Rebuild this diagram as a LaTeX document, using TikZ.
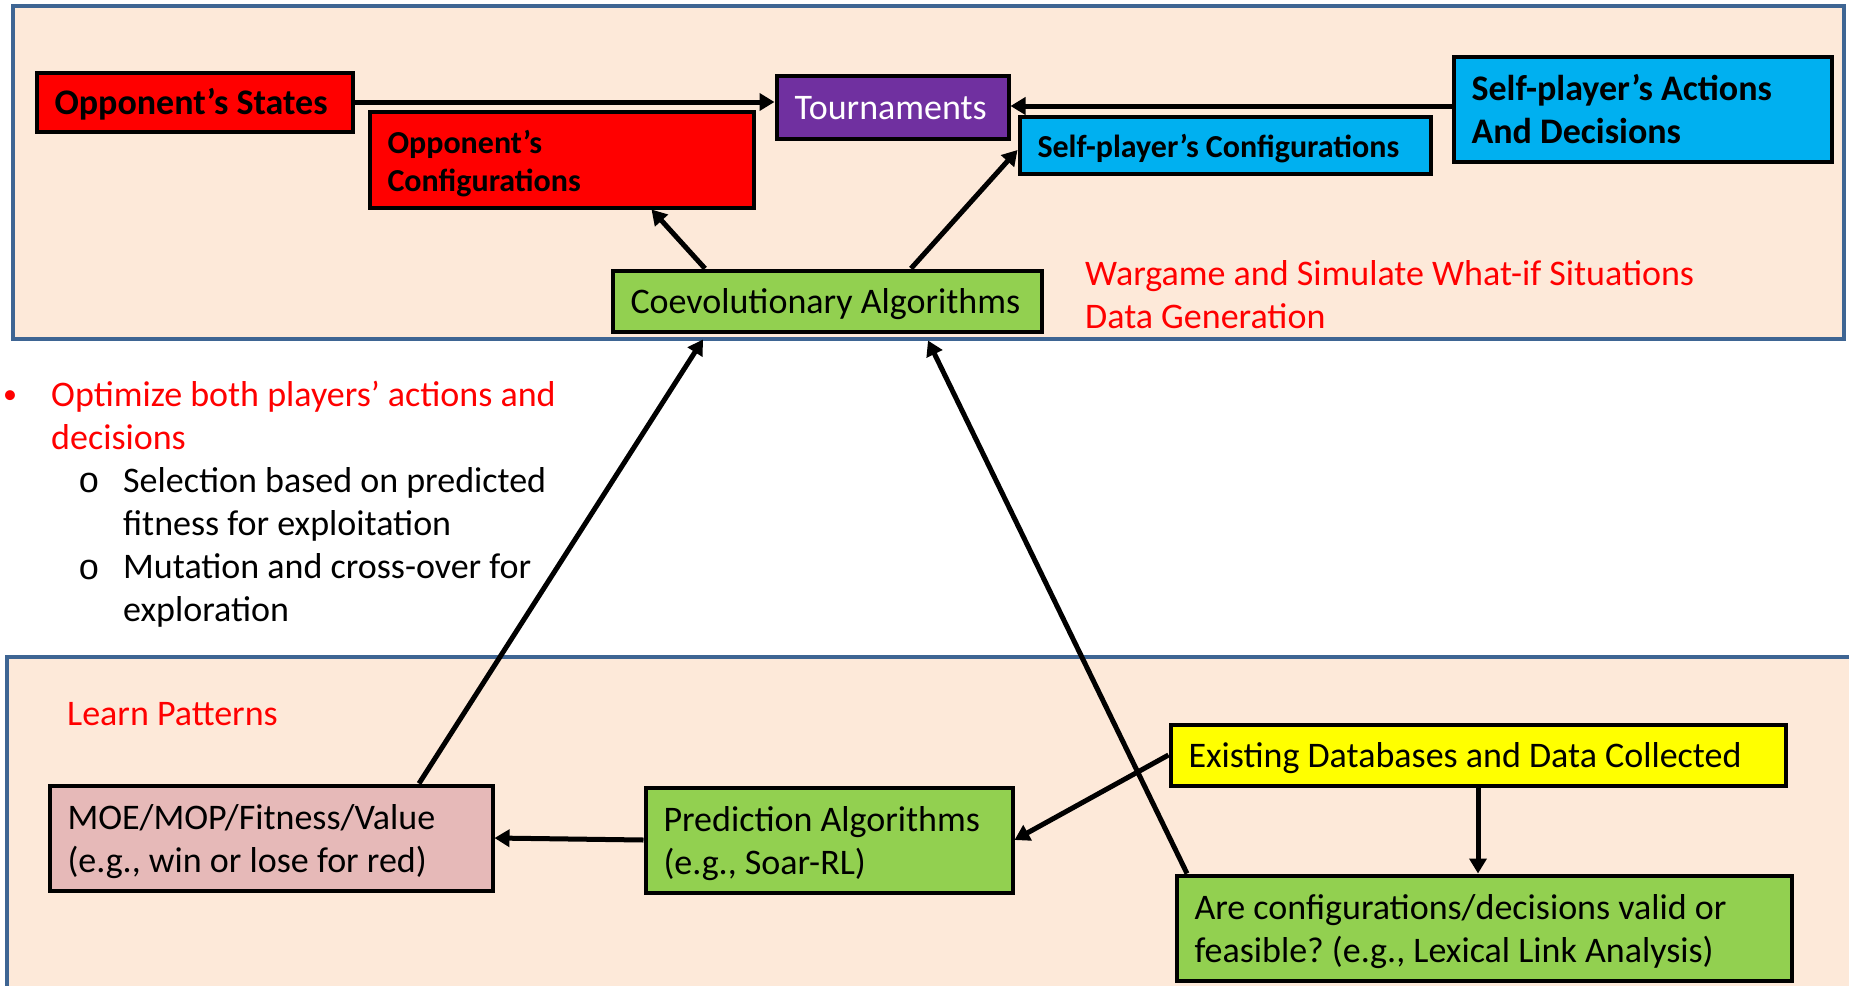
\documentclass[tikz,border=0pt]{standalone}
\usepackage{fontspec}
\setmainfont{Carlito}
\newfontfamily\monobullet{Liberation Mono}
\usetikzlibrary{positioning,arrows.meta}
\frenchspacing
\definecolor{panelfill}{HTML}{FDE9D9}
\definecolor{panelline}{HTML}{3E6593}
\definecolor{oppred}{HTML}{FF0000}
\definecolor{tourpurple}{HTML}{7030A0}
\definecolor{selfblue}{HTML}{00B0F0}
\definecolor{algogreen}{HTML}{92D050}
\definecolor{datayellow}{HTML}{FFFF00}
\definecolor{fitpink}{HTML}{E6B9B8}
\newcommand{\bigtext}{\fontsize{36}{43}\selectfont}
\newcommand{\smalltext}{\fontsize{32}{38}\selectfont}
\newcommand{\topstrut}{\rule{0pt}{32pt}}
\tikzstyle{block} = [draw, rectangle, line width=4pt, inner xsep=18pt, inner ysep=0pt, align=flush left, font=\bigtext]
\tikzstyle{oneline} = [text height=25pt, text depth=0pt]
\tikzstyle{opponent} = [block, fill=oppred, font=\bigtext\bfseries]
\tikzstyle{opponentconf} = [block, fill=oppred, font=\smalltext\bfseries]
\tikzstyle{selfplayer} = [block, fill=selfblue, font=\bigtext\bfseries]
\tikzstyle{selfconf} = [block, fill=selfblue, font=\smalltext\bfseries]
\tikzstyle{tournament} = [block, fill=tourpurple, text=white]
\tikzstyle{algorithm} = [block, fill=algogreen]
\tikzstyle{fitness} = [block, fill=fitpink]
\tikzstyle{database} = [block, fill=datayellow]
\tikzstyle{line} = [draw, line width=5pt, -{Triangle[length=15pt,width=17pt]}]
\tikzstyle{panel} = [fill=panelfill, draw=panelline, line width=3.5pt]
\tikzstyle{note} = [text=red, inner sep=0pt, anchor=base west, align=flush left, font=\bigtext]
\tikzstyle{item} = [inner sep=0pt, anchor=base west, align=flush left, font=\bigtext]
\pgfdeclarelayer{background}
\pgfsetlayers{background,main}
\begin{document}
\begin{tikzpicture}[x=1pt, y=-1pt]
    \useasboundingbox (0,0) rectangle (1849,985);

    % Place nodes
    \node [opponent, oneline, text width=280pt, minimum height=59pt] (states) at (194.5,102) {Opponent’s States};
    \node [opponentconf, text width=348pt, minimum height=96pt] (oppconf) at (561.5,159.5) {\topstrut Opponent’s\\Configurations};
    \node [tournament, oneline, text width=196pt, minimum height=63pt] (tourn) at (892.5,107) {Tournaments};
    \node [selfconf, oneline, text width=375pt, minimum height=57pt] (selfconf) at (1225,145) {Self-player’s Configurations};
    \node [selfplayer, text width=342pt, minimum height=105pt] (selfact) at (1642.5,109) {Self-player’s Actions\\And Decisions};
    \node [algorithm, oneline, text width=393pt, minimum height=61pt] (coevo) at (827,301) {Coevolutionary Algorithms};
    \node [fitness, text width=407pt, minimum height=105pt] (moe) at (271,838) {\topstrut MOE/MOP/Fitness/Value\\(e.g., win or lose for red)};
    \node [algorithm, text width=331pt, minimum height=105pt] (pred) at (829,840) {\topstrut Prediction Algorithms\\(e.g., Soar-RL)};
    \node [database, oneline, text width=579pt, minimum height=61pt] (exist) at (1478,755) {Existing Databases and Data Collected};
    \node [algorithm, text width=579pt, minimum height=105pt] (valid) at (1484,928) {\topstrut Are configurations/decisions valid or\\feasible? (e.g., Lexical Link Analysis)};

    % Labels and bullets (placed by their last baseline)
    \node [note] (wargame) at (1085,328.5) {Wargame and Simulate What-if Situations\\Data Generation};
    \node [note] (learn) at (67,725) {Learn Patterns};
    \node [note, font=\fontsize{28}{34}\selectfont] (dot) at (3,403.5) {•};
    \node [note] (optimize) at (51,449) {Optimize both players’ actions and\\decisions};
    \node [item, font=\bigtext\monobullet] (circ1) at (78,492) {o};
    \node [item] (selection) at (123,535.5) {Selection based on predicted\\fitness for exploitation};
    \node [item, font=\bigtext\monobullet] (circ2) at (78,579.5) {o};
    \node [item] (mutation) at (123,621.5) {Mutation and cross-over for\\exploration};

    % Draw edges
    \coordinate (selfin) at ([yshift=3pt]selfact.west);
    \path [line] (states.east) -- (states.east -| tourn.west);
    \path [line] (selfin) -- (selfin -| tourn.east);
    \path [line] ([xshift=-122pt]coevo.north) -- ([xshift=90pt]oppconf.south);
    \path [line] ([xshift=84pt]coevo.north) -- ([yshift=-5pt]selfconf.west);
    \path [line] ([xshift=148pt]moe.north) -- ([xshift=-124pt,yshift=-6pt]coevo.south);
    \path [line] ([xshift=-297pt]valid.north) -- ([xshift=101pt,yshift=-7pt]coevo.south);
    \path [line] (exist.west) -- (pred.east);
    \path [line] (exist.south) -- (exist.south |- valid.north);
    \path [line] (pred.west) -- (moe.east);

    % Panels go behind the blocks
    \begin{pgfonlayer}{background}
        \fill [white] (0,0) rectangle (1849,985);
        \path [panel] (13,6) rectangle (1844,339);
        \path [panel] (7,657) rectangle (1880,1010);
    \end{pgfonlayer}
\end{tikzpicture}
\end{document}
